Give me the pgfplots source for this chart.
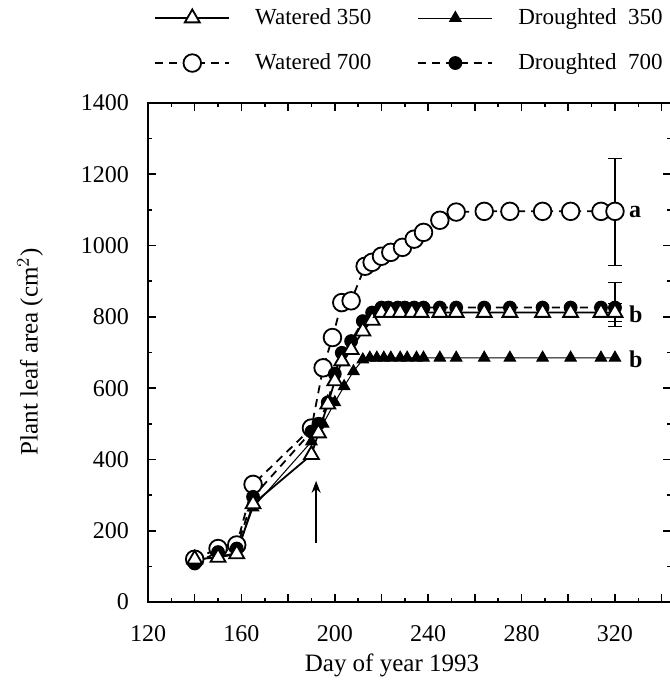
\documentclass[border=0pt]{standalone}
\usepackage{pgfplots}
\pgfplotsset{compat=1.18}
\usepackage{fontspec}
\setmainfont{Liberation Serif}
\usetikzlibrary{arrows.meta}

\pgfplotstableread{
x y
140 120
150 125
158 135
165 275
190 413
193 474
197 555
200 620
203 676
207 708
212 760
216 790
220 812
224 812
228 812
233 812
237 812
245 812
252 812
264 812
275 812
289 812
301 812
314 812
320 812
}\wthree

\pgfplotstableread{
x y
140 115
150 128
158 138
165 265
190 450
195 500
200 560
204 605
208 647
212 680
215 685
218 685
221 685
224 685
228 685
231 685
235 685
238 685
245 685
252 685
264 685
275 685
289 685
301 685
314 685
320 685
}\dthree

\pgfplotstableread{
x y
140 120
150 150
158 160
165 330
190 488
195 657
199 742
203 840
207 845
213 942
216 953
220 970
224 981
229 995
234 1018
238 1037
245 1071
252 1094
264 1096
275 1096
289 1096
301 1096
314 1096
320 1096
}\wseven

\pgfplotstableread{
x y
140 108
150 140
158 150
165 295
190 478
193 500
197 560
200 640
203 699
207 732
212 788
216 812
220 826
223 826
227 826
230 826
234 826
238 826
245 826
252 826
264 826
275 826
289 826
301 826
314 826
320 826
}\dseven

\begin{document}
\begin{tikzpicture}
\useasboundingbox (-74pt,-43.5pt) rectangle (260.5pt,301pt);
\begin{axis}[
  at={(0,0)}, anchor=south west,
  scale only axis,
  width=261.5pt, height=249.5pt,
  xmin=120, xmax=344, ymin=0, ymax=1400,
  xtick={120,140,...,340},
  xticklabels={120,,160,,200,,240,,280,,320,},
  minor x tick num=1,
  ytick={0,200,...,1400},
  minor y tick num=1,
  tick align=inside,
  major tick length=4pt, minor tick length=2.2pt,
  every tick/.style={black, line width=0.8pt},
  axis line style={line width=1pt},
  /pgf/number format/assume math mode=true,
  /pgf/number format/1000 sep={},
  ticklabel style={font=\fontsize{12}{14}\selectfont},
  xticklabel style={yshift=-8pt},
  yticklabel style={xshift=-6pt},
  xlabel={Day of year 1993},
  ylabel={Plant leaf area (cm$^2$)},
  label style={font=\fontsize{12.5}{15}\selectfont},
  xlabel style={at={(axis description cs:0.4665,-0.1263)}, anchor=center},
  ylabel style={at={(axis description cs:-0.2256,0.501)}, anchor=center, rotate=0},
  legend columns=2,
  legend cell align=left,
  legend style={draw=none, fill=none, at={(axis description cs:0.0,1.206)}, anchor=north west,
    font=\fontsize{11.5}{13}\selectfont, row sep=9pt,
    /tikz/every odd column/.append style={column sep=7.5pt},
    /tikz/every even column/.append style={column sep=18pt},
    nodes={inner xsep=5pt}},
  legend image code/.code={\draw[mark repeat=2,mark phase=2] plot coordinates {(0cm,0cm) (0.65cm,0cm) (1.3cm,0cm)};},
  clip=false,
]
\addlegendimage{black, line width=0.9pt, mark=triangle*, mark size=4.3pt, mark options={fill=white, solid, line width=0.9pt}}
\addlegendentry{Watered 350}
\addlegendimage{black, line width=0.5pt, mark=triangle*, mark size=3.3pt, mark options={fill=black, solid}}
\addlegendentry{Droughted\ \ 350}
\addlegendimage{black, line width=0.9pt, dash pattern=on 4pt off 3pt, mark=*, mark size=4.4pt, mark options={fill=white, solid, line width=0.9pt}}
\addlegendentry{Watered 700}
\addlegendimage{black, line width=0.9pt, dash pattern=on 4pt off 3pt, mark=*, mark size=3pt, mark options={fill=black, solid}}
\addlegendentry{Droughted\ \ 700}

% error bars
\addplot[black, line width=0.5pt, forget plot, draw=none, mark=none,
  error bars/.cd, y dir=both, y explicit,
  error bar style={line width=0.6pt, black},
  error mark options={rotate=90, mark size=3.5pt, line width=0.6pt, black}]
  coordinates {(320,1094) +- (0,150) (320,835) +- (0,62) (320,812) +- (0,25)};

% series
\addplot[black, line width=0.9pt, dash pattern=on 4pt off 3pt, mark=*, mark size=4.4pt,
  mark options={fill=white, solid, line width=0.9pt}, forget plot] table {\wseven};
\addplot[black, line width=0.9pt, dash pattern=on 4pt off 3pt, mark=*, mark size=3pt,
  mark options={fill=black, solid}, forget plot] table {\dseven};
\addplot[black, line width=0.5pt, mark=triangle*, mark size=3.3pt,
  mark options={fill=black, solid}, forget plot] table {\dthree};
\addplot[black, line width=0.9pt, mark=triangle*, mark size=4.3pt,
  mark options={fill=white, solid, line width=0.9pt}, forget plot] table {\wthree};

\draw[line width=0.9pt, -{Stealth[length=6pt, width=4.5pt]}] (axis cs:192,165) -- (axis cs:192,340);

\node[anchor=west, font=\fontsize{12}{14}\selectfont\bfseries] at (axis cs:323,1094) {a};
\node[anchor=west, font=\fontsize{12}{14}\selectfont\bfseries] at (axis cs:323,808) {b};
\node[anchor=west, font=\fontsize{12}{14}\selectfont\bfseries] at (axis cs:323,682) {b};
\end{axis}
\end{tikzpicture}
\end{document}
